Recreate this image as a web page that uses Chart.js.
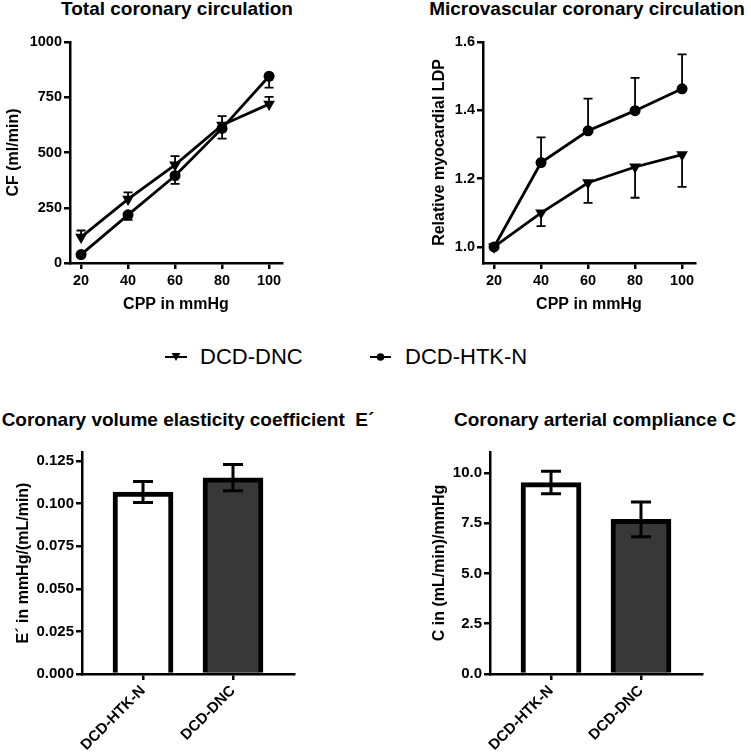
<!DOCTYPE html>
<html>
<head>
<meta charset="utf-8">
<script src="https://cdn.jsdelivr.net/npm/chart.js@4/dist/chart.umd.min.js"></script>
<style>
  html, body { margin: 0; padding: 0; background: #fff; }
  #page { position: relative; width: 751px; height: 754px; overflow: hidden; font-family: "Liberation Sans", Arial, sans-serif; color: #000; }
  #page canvas { position: absolute; }
  .panel-title { position: absolute; width: 400px; text-align: center; font-weight: bold; font-size: 19px; line-height: 22px; white-space: nowrap; }
  .legend-text { position: absolute; font-size: 22px; line-height: 22px; white-space: nowrap; }
  .legend-mark { position: absolute; }
</style>
</head>
<body>
<div id="page">
  <div class="panel-title" style="left:-23px; top:-2px;">Total coronary circulation</div>
  <div class="panel-title" style="left:387px; top:-2px;">Microvascular coronary circulation</div>
  <div class="panel-title" style="left:-12px; top:409px;">Coronary volume elasticity coefficient&nbsp; E´</div>
  <div class="panel-title" style="left:395px; top:409px;">Coronary arterial compliance C</div>

  <canvas id="cfChart" width="300" height="320" style="left:0; top:0;"></canvas>
  <canvas id="ldpChart" width="331" height="320" style="left:420px; top:0;"></canvas>
  <canvas id="elasticityChart" width="320" height="354" style="left:0; top:400px;"></canvas>
  <canvas id="complianceChart" width="331" height="354" style="left:420px; top:400px;"></canvas>

  <!-- shared legend for the two line charts -->
  <svg class="legend-mark" width="22" height="14" style="left:165px; top:350px;">
    <line x1="0" y1="7" x2="22" y2="7" stroke="#000" stroke-width="2"/>
    <polygon points="6.5,3 15.5,3 11,11" fill="#000"/>
  </svg>
  <div class="legend-text" style="left:200px; top:346px;">DCD-DNC</div>
  <svg class="legend-mark" width="21" height="14" style="left:370px; top:350px;">
    <line x1="0" y1="7" x2="21" y2="7" stroke="#000" stroke-width="2"/>
    <circle cx="10.5" cy="7" r="3.8" fill="#000"/>
  </svg>
  <div class="legend-text" style="left:405px; top:346px;">DCD-HTK-N</div>
</div>

<script>
// values (mean and SEM)
const cppLevels = [20, 40, 60, 80, 100];

const cfHtk = [38, 218, 395, 609, 845];
const cfHtkSem = [8, 23, 37, 46, 51];
const cfDnc = [117, 289, 444, 624, 719];
const cfDncSem = [30, 31, 40, 41, 33];
const cfTicks = [0, 250, 500, 750, 1000];

const ldpHtk = [1.0, 1.247, 1.340, 1.399, 1.463];
const ldpHtkSem = [0, 0.074, 0.094, 0.096, 0.101];
const ldpDnc = [1.0, 1.100, 1.188, 1.234, 1.270];
const ldpDncSem = [0, 0.039, 0.059, 0.090, 0.094];
const ldpTicks = [1.0, 1.2, 1.4, 1.6];

const groups = ['DCD-HTK-N', 'DCD-DNC'];
const groupFills = ['#ffffff', '#383838'];
const elasticity = [0.1068, 0.1152];
const elasticitySem = [0.0062, 0.0077];
const elasticityTicks = [0, 0.025, 0.05, 0.075, 0.1, 0.125];
const compliance = [9.52, 7.69];
const complianceSem = [0.56, 0.86];
const complianceTicks = [0, 2.5, 5, 7.5, 10];

Chart.defaults.font.family = '"Liberation Sans", Arial, sans-serif';
Chart.defaults.color = '#000';

// error bars: dir -1 = down only, +1 = up only, 0 = both ways
function errorBarPlugin(sets) {
  return {
    id: 'errorBars',
    afterDatasetsDraw(chart) {
      const { ctx, scales: { x, y } } = chart;
      sets.forEach(set => {
        ctx.save();
        ctx.strokeStyle = '#000';
        ctx.lineWidth = set.width;
        set.means.forEach((m, i) => {
          const sem = set.sem[i];
          if (!sem) return;
          const px = x.getPixelForValue(set.xs[i]);
          const lo = set.dir > 0 ? m : m - sem;
          const hi = set.dir < 0 ? m : m + sem;
          const yLo = y.getPixelForValue(lo);
          const yHi = y.getPixelForValue(hi);
          ctx.beginPath();
          ctx.moveTo(px, yLo);
          ctx.lineTo(px, yHi);
          if (set.dir <= 0) { ctx.moveTo(px - set.cap, yLo); ctx.lineTo(px + set.cap, yLo); }
          if (set.dir >= 0) { ctx.moveTo(px - set.cap, yHi); ctx.lineTo(px + set.cap, yHi); }
          ctx.stroke();
        });
        ctx.restore();
      });
    }
  };
}

function yAxis(min, max, ticks, digits, title, width, titlePad, size) {
  return {
    type: 'linear', min: min, max: max,
    afterBuildTicks: s => { s.ticks = ticks.map(v => ({ value: v })); },
    afterFit: s => { s.width = width; },
    border: { color: '#000', width: 2.5 },
    grid: { drawOnChartArea: false, color: '#000', lineWidth: 2.5, tickLength: 6 },
    ticks: { color: '#000', padding: 2, font: { size: size, weight: 'bold' }, callback: v => Number(v).toFixed(digits) },
    title: { display: true, text: title, color: '#000', font: { size: 16, weight: 'bold' }, padding: { top: titlePad, bottom: 0 } }
  };
}

function cppAxis() {
  return {
    type: 'linear', min: 15.3, max: 105.5,
    afterBuildTicks: s => { s.ticks = cppLevels.map(v => ({ value: v })); },
    afterFit: s => { s.height = 57; },
    border: { color: '#000', width: 2.5 },
    grid: { drawOnChartArea: false, color: '#000', lineWidth: 2.5, tickLength: 6 },
    ticks: { color: '#000', padding: 3, maxRotation: 0, font: { size: 14.5, weight: 'bold' } },
    title: { display: true, text: 'CPP in mmHg', color: '#000', font: { size: 16, weight: 'bold' }, padding: { top: 0, bottom: 6 } }
  };
}

function groupAxis() {
  return {
    type: 'linear', min: 0.322, max: 2.678, offset: false,
    afterBuildTicks: s => { s.ticks = groups.map((g, i) => ({ value: i + 1 })); },
    afterFit: s => { s.height = 80; },
    border: { color: '#000', width: 2.5 },
    grid: { drawOnChartArea: false, offset: false, color: '#000', lineWidth: 2.5, tickLength: 6 },
    ticks: { color: '#000', padding: 2, autoSkip: false, minRotation: 45, maxRotation: 45,
             font: { size: 15, weight: 'bold' }, callback: v => groups[v - 1] }
  };
}

function seriesPoints(values) {
  return cppLevels.map((x, i) => ({ x: x, y: values[i] }));
}

function lineSet(label, values, style) {
  const triangle = style === 'triangle';
  return {
    label: label,
    data: seriesPoints(values),
    borderColor: '#000',
    backgroundColor: '#000',
    borderWidth: 2.8,
    tension: 0,
    pointStyle: style,
    pointRotation: triangle ? 180 : 0,
    pointRadius: triangle ? 6.8 : 5.5,
    pointBorderWidth: 0
  };
}

const common = {
  responsive: false,
  animation: false,
  plugins: { legend: { display: false }, tooltip: { enabled: false } }
};

new Chart(document.getElementById('cfChart'), {
  type: 'line',
  data: { datasets: [lineSet('DCD-DNC', cfDnc, 'triangle'), lineSet('DCD-HTK-N', cfHtk, 'circle')] },
  options: Object.assign({}, common, {
    layout: { padding: { left: 0, right: 18, top: 42, bottom: 0 } },
    scales: { x: cppAxis(), y: yAxis(0, 1000, cfTicks, 0, 'CF (ml/min)', 70, 4, 14.5) }
  }),
  plugins: [errorBarPlugin([
    { xs: cppLevels, means: cfDnc, sem: cfDncSem, dir: 1, cap: 4.5, width: 1.8 },
    { xs: cppLevels, means: cfHtk, sem: cfHtkSem, dir: -1, cap: 4.5, width: 1.8 }
  ])]
});

new Chart(document.getElementById('ldpChart'), {
  type: 'line',
  data: { datasets: [lineSet('DCD-DNC', ldpDnc, 'triangle'), lineSet('DCD-HTK-N', ldpHtk, 'circle')] },
  options: Object.assign({}, common, {
    layout: { padding: { left: 0, right: 56, top: 42, bottom: 0 } },
    scales: { x: cppAxis(), y: yAxis(0.953, 1.6, ldpTicks, 1, 'Relative myocardial LDP', 63, 10.4, 14.5) }
  }),
  plugins: [errorBarPlugin([
    { xs: cppLevels, means: ldpDnc, sem: ldpDncSem, dir: -1, cap: 4.5, width: 1.8 },
    { xs: cppLevels, means: ldpHtk, sem: ldpHtkSem, dir: 1, cap: 4.5, width: 1.8 }
  ])]
});

function barSet(values) {
  return {
    data: groups.map((g, i) => ({ x: i + 1, y: values[i] })),
    backgroundColor: groupFills,
    borderColor: '#000',
    borderWidth: 5,
    barThickness: 60
  };
}

new Chart(document.getElementById('elasticityChart'), {
  type: 'bar',
  data: { datasets: [barSet(elasticity)] },
  options: Object.assign({}, common, {
    layout: { padding: { left: 0, right: 26, top: 52, bottom: 0 } },
    scales: { x: groupAxis(), y: yAxis(0, 0.1303, elasticityTicks, 3, 'E´ in mmHg/(mL/min)', 82, 14.4, 15) }
  }),
  plugins: [errorBarPlugin([
    { xs: [1, 2], means: elasticity, sem: elasticitySem, dir: 0, cap: 10, width: 3 }
  ])]
});

new Chart(document.getElementById('complianceChart'), {
  type: 'bar',
  data: { datasets: [barSet(compliance)] },
  options: Object.assign({}, common, {
    layout: { padding: { left: 0, right: 49, top: 52, bottom: 0 } },
    scales: { x: groupAxis(), y: yAxis(0, 11.04, complianceTicks, 1, 'C in (mL/min)/mmHg', 70, 10.4, 15) }
  }),
  plugins: [errorBarPlugin([
    { xs: [1, 2], means: compliance, sem: complianceSem, dir: 0, cap: 10, width: 3 }
  ])]
});
</script>
</body>
</html>
